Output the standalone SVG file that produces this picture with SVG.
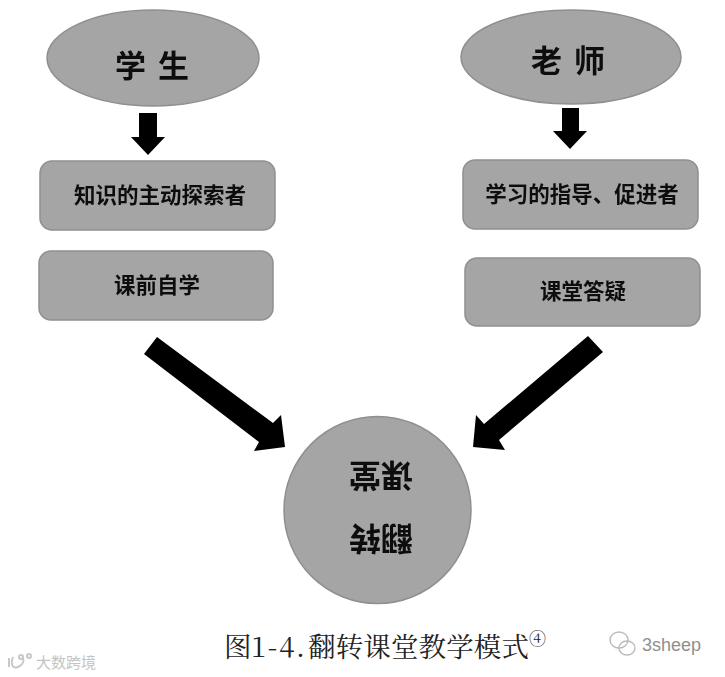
<svg xmlns="http://www.w3.org/2000/svg" width="725" height="677" viewBox="0 0 725 677">
<defs>
<style>
.shape{fill:#a5a5a5;stroke:#8f8f8f;stroke-width:1.5}
.t{font-family:"Noto Sans CJK SC","Liberation Sans",sans-serif;font-weight:700;fill:#111;text-anchor:middle}
.box{font-size:21.5px}
.big{font-size:31px;letter-spacing:12px}
.cap{font-family:"Noto Serif CJK SC","Liberation Serif","Noto Sans CJK SC",serif;font-size:27.5px;fill:#222}
.sup{font-size:17px}
.wm{font-family:"Liberation Sans","Noto Sans CJK SC",sans-serif;fill:#c4c4c4}
.ar{fill:#000}
</style>
<filter id="b" x="-10%" y="-10%" width="120%" height="120%"><feGaussianBlur stdDeviation="0.7"/></filter>
<filter id="a" x="-10%" y="-10%" width="120%" height="120%"><feGaussianBlur stdDeviation="0.5"/></filter>
</defs>
<rect width="725" height="677" fill="#fff"/>
<g id="connectors" filter="url(#a)">
<polygon class="ar" points="139,113 157,113 157,137 165,137 148,155 131,137 139,137"/>
<polygon class="ar" points="562,108 579,108 579,131 587,131 570,149 553,131 562,131"/>
<polygon class="ar" points="157,337 273,423 281,415 285,447 254,451 259,442 144,354"/>
<polygon class="ar" points="588,336 603,352 499,440 505,450 473,447 476,415 484,424"/>
</g>
<g id="student"><ellipse class="shape" cx="153" cy="58" rx="106" ry="48"/><text class="t big" x="158" y="77" filter="url(#b)">学生</text></g>
<g id="teacher"><ellipse class="shape" cx="571" cy="57" rx="110" ry="47"/><text class="t big" x="574" y="72" filter="url(#b)">老师</text></g>
<g id="box-explorer"><rect class="shape" x="40" y="161" width="235" height="69" rx="12"/><text class="t box" x="160" y="203" filter="url(#b)">知识的主动探索者</text></g>
<g id="box-preclass"><rect class="shape" x="39" y="251" width="234" height="69" rx="12"/><text class="t box" x="157" y="293" filter="url(#b)">课前自学</text></g>
<g id="box-guide"><rect class="shape" x="463" y="160" width="235" height="69" rx="12"/><text class="t box" x="582" y="202" filter="url(#b)">学习的指导、促进者</text></g>
<g id="box-qa"><rect class="shape" x="465" y="258" width="235" height="68" rx="12"/><text class="t box" x="583" y="299" filter="url(#b)">课堂答疑</text></g>
<g id="flipped-classroom"><circle class="shape" cx="377.5" cy="510" r="93.5"/>
<text class="t" font-size="32" transform="rotate(180 381 538)" x="381" y="549" filter="url(#b)">翻转</text>
<text class="t" font-size="32" transform="rotate(180 381 475)" x="381" y="486" filter="url(#b)">课堂</text></g>
<g id="caption"><text class="cap" x="224" y="657">图</text><text class="cap" x="251" y="657" textLength="54" lengthAdjust="spacing">1-4.</text><text class="cap" x="308" y="657" textLength="221" lengthAdjust="spacing">翻转课堂教学模式</text><text class="cap sup" x="529" y="645">④</text></g>
<g id="watermarks">
<text class="wm" x="642" y="651" font-size="18" style="fill:#8f8f8f">3sheep</text>
<g fill="none" stroke="#bbb" stroke-width="1.4"><ellipse cx="619" cy="640" rx="9" ry="8"/><ellipse cx="627" cy="648" rx="8" ry="7"/></g>
<g fill="none" stroke="#c8c8c8" stroke-width="2"><path d="M9 658v9M13 657c-3 8 0 12 5 10s6-6 5-9"/><circle cx="21" cy="657" r="2"/><circle cx="29" cy="656" r="2"/></g>
<text class="wm" x="36" y="668" font-size="15">大数跨境</text>
</g>
</svg>
